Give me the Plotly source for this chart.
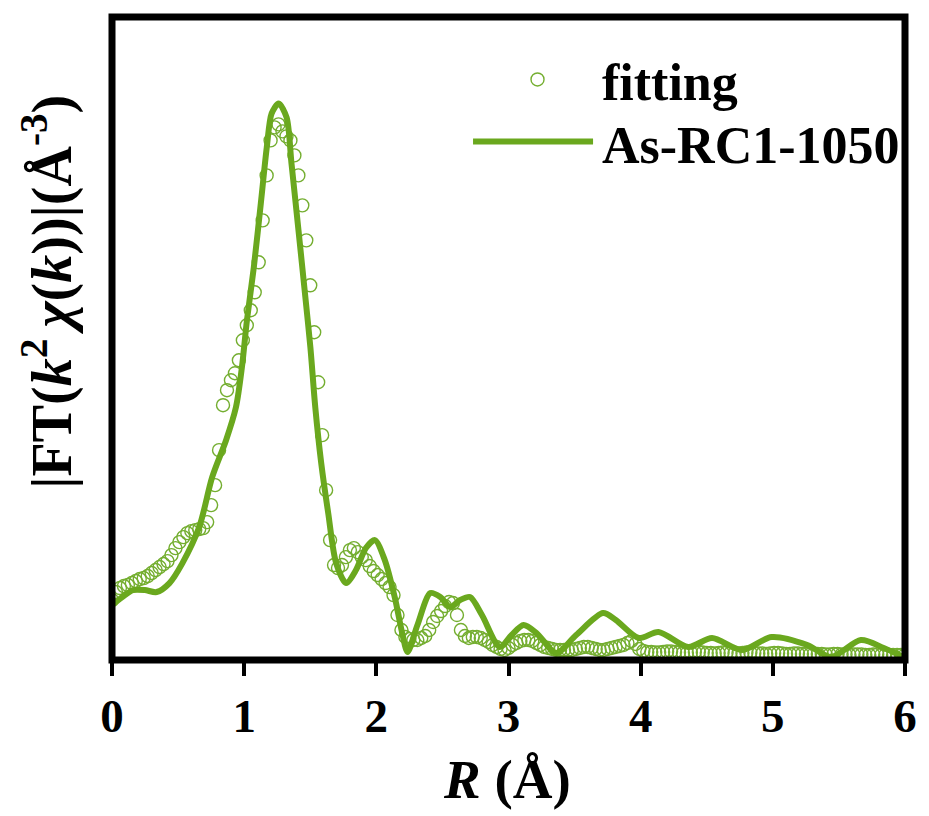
import plotly.graph_objects as go

# ---------------- data ----------------
# Fitting (open circles): uniform R grid, step 0.03 Å
FIT_STEP = 0.03
fit_val = [
    1.20, 1.36, 1.44, 1.48, 1.50, 1.54, 1.58, 1.62, 1.64, 1.68,
    1.74, 1.80, 1.86, 1.92, 1.98, 2.10, 2.24, 2.36, 2.46, 2.54,
    2.58, 2.60, 2.62, 2.64, 2.76, 3.10, 3.50, 4.20, 5.10, 5.40,
    5.60, 5.74, 6.00, 6.40, 6.70, 7.00, 7.36, 7.96, 8.80, 9.70,
    10.40, 10.66, 10.72, 10.58, 10.48, 10.40, 10.10, 9.70, 9.10, 8.40,
    7.50, 6.56, 5.56, 4.50, 3.40, 2.40, 1.90, 1.84, 1.90, 2.06,
    2.20, 2.24, 2.16, 2.06, 2.00, 1.88, 1.78, 1.70, 1.62, 1.54,
    1.46, 1.30, 0.90, 0.60, 0.46, 0.42, 0.40, 0.40, 0.44, 0.48,
    0.60, 0.76, 0.88, 0.98, 1.08, 1.16, 1.14, 0.90, 0.60, 0.48,
    0.44, 0.46, 0.46, 0.44, 0.40, 0.36, 0.30, 0.26, 0.22, 0.20,
    0.24, 0.30, 0.34, 0.38, 0.40, 0.40, 0.38, 0.34, 0.30, 0.26,
    0.24, 0.22, 0.20, 0.20, 0.20, 0.20, 0.20, 0.22, 0.24, 0.26,
    0.26, 0.24, 0.22, 0.20, 0.20, 0.22, 0.24, 0.26, 0.28, 0.30,
    0.34, 0.38, 0.32, 0.22, 0.18, 0.16, 0.16, 0.15, 0.15, 0.16,
    0.17, 0.17, 0.16, 0.15, 0.14, 0.14, 0.15, 0.16, 0.16, 0.15,
    0.14, 0.14, 0.13, 0.14, 0.15, 0.15, 0.14, 0.13, 0.13, 0.14,
    0.15, 0.15, 0.14, 0.13, 0.13, 0.12, 0.13, 0.14, 0.14, 0.13,
    0.12, 0.12, 0.13, 0.13, 0.12, 0.12, 0.11, 0.12, 0.12, 0.12,
    0.11, 0.11, 0.12, 0.12, 0.11, 0.11, 0.10, 0.11, 0.11, 0.11,
    0.10, 0.10, 0.11, 0.11, 0.10, 0.10, 0.10, 0.10, 0.10, 0.10, 0.10,
]
fit_r = [round(i * FIT_STEP, 2) for i in range(len(fit_val))]

# Experimental curve As-RC1-1050 (solid line)
exp_r = [0.000, 0.098, 0.158, 0.248, 0.338, 0.435, 0.533, 0.660, 0.758, 0.863,
         0.938, 0.983, 1.021, 1.073, 1.126, 1.171, 1.208, 1.261, 1.321, 1.358,
         1.411, 1.463, 1.501, 1.538, 1.583, 1.636, 1.696, 1.771, 1.846, 1.921,
         1.989, 2.064, 2.139, 2.199, 2.236, 2.311, 2.409, 2.484, 2.559, 2.634,
         2.709, 2.799, 2.934, 3.024, 3.114, 3.212, 3.362, 3.512, 3.715, 3.812,
         3.985, 4.135, 4.360, 4.540, 4.765, 4.991, 5.261, 5.441, 5.666, 5.839,
         5.989]
exp_val = [1.10, 1.30, 1.40, 1.40, 1.36, 1.54, 1.94, 2.66, 3.66, 4.40,
           5.06, 5.86, 6.80, 7.86, 9.14, 10.26, 10.94, 11.14, 10.86, 9.94,
           8.60, 7.26, 6.26, 5.06, 3.94, 2.94, 1.94, 1.54, 1.80, 2.24,
           2.40, 2.00, 1.26, 0.50, 0.16, 0.70, 1.34, 1.26, 1.06, 1.20,
           1.26, 0.90, 0.26, 0.50, 0.70, 0.54, 0.14, 0.50, 0.94, 0.80,
           0.44, 0.56, 0.26, 0.44, 0.20, 0.46, 0.30, 0.06, 0.40, 0.24,
           0.06]

x_ticks = [0, 1, 2, 3, 4, 5, 6]
legend_names = ["fitting", "As-RC1-1050"]

# ---------------- style ----------------
GREEN = "#6AA81E"
GREEN_C = "#74AE30"
FONT = "Liberation Serif, Times New Roman, serif"
W, H = 929, 816
L, R_, T, B = 112, 911.5, 16.5, 660  # plot area in pixels
PW, PH = R_ - L, B - T


def px(xp):
    return (xp - L) / PW


def py(yp):
    return (B - yp) / PH


fig = go.Figure()
fig.add_trace(go.Scatter(
    x=fit_r, y=fit_val, mode="markers", name=legend_names[0],
    marker=dict(symbol="circle-open", size=13, color=GREEN_C,
                line=dict(width=1.4, color=GREEN_C)),
    showlegend=False, cliponaxis=True))
fig.add_trace(go.Scatter(
    x=exp_r, y=exp_val, mode="lines", name=legend_names[1],
    line=dict(color=GREEN, width=6, shape="spline", smoothing=0.8),
    showlegend=False))

fig.update_layout(
    width=W, height=H,
    margin=dict(l=L, r=W - R_, t=T, b=H - B, pad=0),
    paper_bgcolor="white", plot_bgcolor="white",
    font=dict(family=FONT, color="black"),
    xaxis=dict(range=[0, 6], tickvals=x_ticks, ticktext=[str(v) for v in x_ticks],
               ticks="outside", ticklen=15, tickwidth=4, tickcolor="black",
               showline=False, showgrid=False, zeroline=False,
               tickfont=dict(family=FONT, size=47, weight="bold", color="black")),
    yaxis=dict(range=[0, PH / 50.0], showticklabels=False, ticks="",
               showline=False, showgrid=False, zeroline=False),
)

# frame
fig.add_shape(type="rect", xref="paper", yref="paper", x0=0, y0=0, x1=1, y1=1,
              line=dict(color="black", width=7), layer="above")

# axis titles
fig.add_annotation(xref="paper", yref="paper", x=px(510), y=py(780),
                   text="<b><i>R</i> (Å)</b>", showarrow=False,
                   font=dict(family=FONT, size=55, color="black"),
                   xanchor="center", yanchor="middle")
fig.add_annotation(xref="paper", yref="paper", x=px(48), y=py(292),
                   text="<b>|FT(<i>k</i><sup>2</sup>\u2009<i>χ</i>(<i>k</i>))|(Å<sup>-3</sup>)</b>",
                   showarrow=False, textangle=-90,
                   font=dict(family=FONT, size=56, color="black"),
                   xanchor="center", yanchor="middle")

# legend (manual)
fig.add_shape(type="circle", xref="paper", yref="paper",
              xsizemode="pixel", ysizemode="pixel",
              xanchor=px(541), yanchor=py(79), x0=-6.5, x1=6.5, y0=-6.5, y1=6.5,
              line=dict(color=GREEN_C, width=1.4))
fig.add_shape(type="line", xref="paper", yref="paper",
              x0=px(476), x1=px(597), y0=py(141), y1=py(141),
              line=dict(color=GREEN, width=6))
fig.add_annotation(xref="paper", yref="paper", x=px(604), y=py(82),
                   text="<b>%s</b>" % legend_names[0], showarrow=False,
                   font=dict(family=FONT, size=52, color="black"),
                   xanchor="left", yanchor="middle")
fig.add_annotation(xref="paper", yref="paper", x=px(604), y=py(145),
                   text="<b>%s</b>" % legend_names[1], showarrow=False,
                   font=dict(family=FONT, size=52, color="black"),
                   xanchor="left", yanchor="middle")

fig.write_html("out.html")
